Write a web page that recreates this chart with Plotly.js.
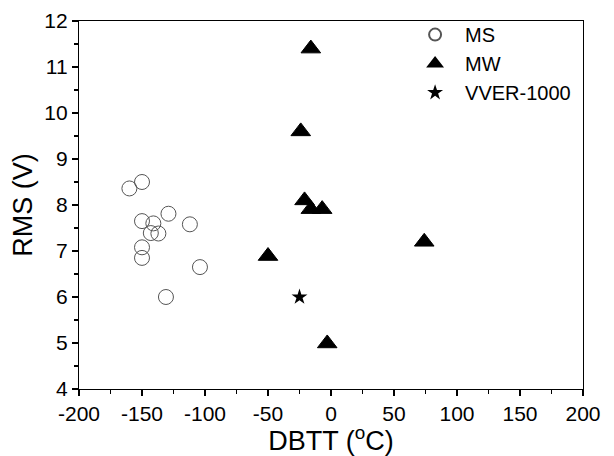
<!DOCTYPE html>
<html>
<head>
<meta charset="utf-8">
<script src="https://cdn.plot.ly/plotly-3.0.1.min.js"></script>
<style>html,body{margin:0;padding:0;background:#fff;}#chart{width:614px;height:456px;}</style>
</head>
<body>
<div id="chart"></div>
<script>
// Data
var msX = [-160, -150, -150, -141, -129, -112, -143, -137, -150, -150, -104, -131];
var msY = [8.36, 8.50, 7.65, 7.60, 7.81, 7.58, 7.39, 7.38, 7.08, 6.85, 6.65, 6.00];
var mwX = [-16, -24, -21, -16, -7, -50, -3, 74];
var mwY = [11.40, 9.60, 8.10, 7.91, 7.91, 6.89, 4.99, 7.20];
var vverX = [-25];
var vverY = [6.0];
var seriesNames = ["MS", "MW", "VVER-1000"];
var xTickVals = [-200, -150, -100, -50, 0, 50, 100, 150, 200];
var xTickText = ["-200", "-150", "-100", "-50", "0", "50", "100", "150", "200"];
var yTickVals = [4, 5, 6, 7, 8, 9, 10, 11, 12];
var yTickText = ["4", "5", "6", "7", "8", "9", "10", "11", "12"];
var xTitle = "DBTT (<sup>o</sup>C)";
var yTitle = "RMS (V)";

var FONT = "Liberation Sans, Arial, Helvetica, sans-serif";

var traces = [
  {x: msX, y: msY, name: seriesNames[0], type: "scatter", mode: "markers",
   marker: {symbol: "circle", size: 15, color: "rgba(0,0,0,0)", line: {color: "#555", width: 1}}},
  {x: mwX, y: mwY, name: seriesNames[1], type: "scatter", mode: "markers",
   marker: {symbol: "triangle-up", size: 17, color: "#000", line: {color: "#000", width: 1}}},
  {x: vverX, y: vverY, name: seriesNames[2], type: "scatter", mode: "markers",
   marker: {symbol: "star", size: 12, color: "#000", line: {color: "#000", width: 0}}}
];

var axisCommon = {
  showgrid: false, zeroline: false, showline: true, mirror: true,
  linecolor: "#000", linewidth: 1.2,
  ticks: "outside", ticklen: 6, tickwidth: 1.2, tickcolor: "#000",
  tickfont: {family: FONT, size: 21, color: "#000"}
};

var layout = {
  width: 614, height: 456,
  margin: {l: 78.5, r: 30.7, t: 20.5, b: 67},
  paper_bgcolor: "#fff", plot_bgcolor: "#fff",
  showlegend: true,
  legend: {x: 0.647, y: 1.016, xanchor: "left", yanchor: "top",
           bgcolor: "rgba(0,0,0,0)", borderwidth: 0, itemwidth: 50, itemsizing: "constant",
           font: {family: FONT, size: 20, color: "#000"}, tracegroupgap: 0},
  xaxis: Object.assign({}, axisCommon, {
    range: [-200, 200], tickmode: "array", tickvals: xTickVals, ticktext: xTickText,
    minor: {tickmode: "linear", tick0: -200, dtick: 25, ticks: "outside", ticklen: 3.5, tickwidth: 1.2, tickcolor: "#000"},
    title: {text: xTitle, font: {family: FONT, size: 27, color: "#000"}, standoff: 6}
  }),
  yaxis: Object.assign({}, axisCommon, {
    range: [4, 12], tickmode: "array", tickvals: yTickVals, ticktext: yTickText,
    minor: {tickmode: "linear", tick0: 4, dtick: 0.5, ticks: "outside", ticklen: 3.5, tickwidth: 1.2, tickcolor: "#000"},
    title: {text: yTitle, font: {family: FONT, size: 27, color: "#000"}, standoff: 3}
  })
};

Plotly.newPlot("chart", traces, layout, {displayModeBar: false, staticPlot: true});
</script>
</body>
</html>
